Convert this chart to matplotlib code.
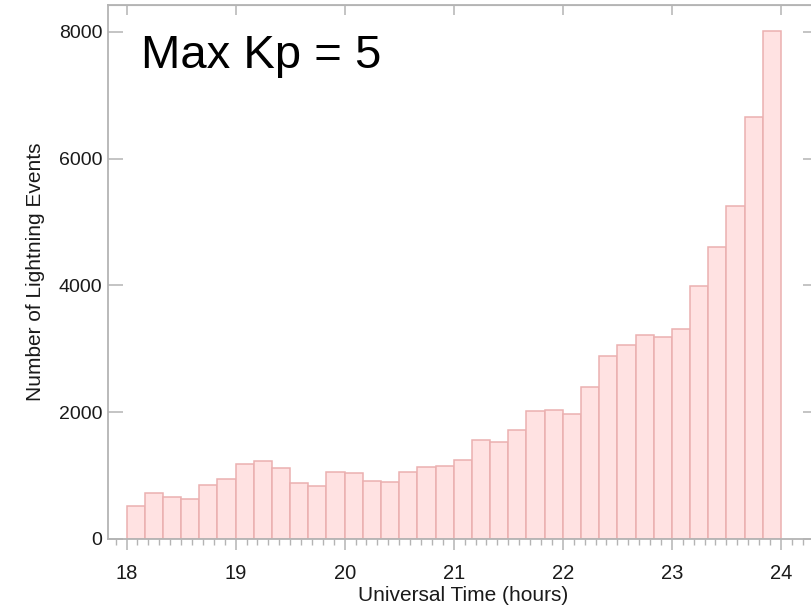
import numpy as np
import matplotlib
matplotlib.use('Agg')
import matplotlib.pyplot as plt
from matplotlib.ticker import MultipleLocator

# 10-minute bins from 18 UT to 24 UT
bin_start = 18.0
bin_width = 1.0 / 6.0
counts = [513, 723, 665, 628, 853, 948, 1178, 1230, 1115, 890, 838, 1058,
          1042, 911, 895, 1058, 1136, 1157, 1246, 1566, 1529, 1717, 2021, 2037,
          1979, 2393, 2880, 3053, 3225, 3189, 3314, 3984, 4607, 5251, 6654, 8021]
x_ticks = [18, 19, 20, 21, 22, 23, 24]
y_ticks = [0, 2000, 4000, 6000, 8000]
label_text = 'Max Kp = 5'

plt.rcParams['font.family'] = ['Liberation Sans', 'DejaVu Sans']
gray = '#b4b4b4'

fig = plt.figure(figsize=(8.12, 6.06), dpi=100)
ax = fig.add_axes([0.133, 0.1106, 0.8744, 0.8812])

lefts = bin_start + bin_width * np.arange(len(counts))
ax.bar(lefts, counts, width=bin_width, align='edge', color='#ffe2e2',
       edgecolor='#ebb0b0', linewidth=1.1)

ax.set_xlim(17.83, 24.34)
ax.set_ylim(0, 8426)

for s in ax.spines.values():
    s.set_color(gray)
    s.set_linewidth(1.3)

ax.set_xticks(x_ticks)
ax.xaxis.set_minor_locator(MultipleLocator(0.1))
ax.set_yticks(y_ticks)
ax.tick_params(axis='x', which='major', direction='out', length=8, width=1.1,
               color=gray, labelsize=14.5, labelcolor='#1a1a1a', pad=10, top=False)
ax.tick_params(axis='x', which='minor', direction='out', length=4, width=1.0,
               color=gray, top=False)
ax.tick_params(axis='y', which='major', direction='in', length=10.8, width=1.1,
               color=gray, labelsize=14, labelcolor='#1a1a1a', pad=4,
               right=True)

top = ax.secondary_xaxis('top')
top.set_xticks(x_ticks)
top.tick_params(direction='in', length=7.2, width=1.1, color=gray, labeltop=False)
top.spines['top'].set_color(gray)

ax.set_xlabel('Universal Time (hours)', fontsize=15, color='#1a1a1a', labelpad=2)
ax.set_ylabel('Number of Lightning Events', fontsize=15, color='#1a1a1a', labelpad=10)

ax.text(0.047, 0.945, label_text, transform=ax.transAxes, fontsize=34,
        ha='left', va='top', color='black')

fig.savefig('out.png', dpi=100)
